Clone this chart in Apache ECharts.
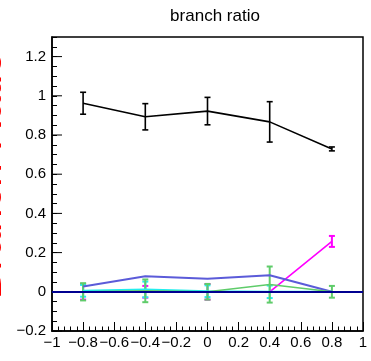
<!DOCTYPE html>
<html>
<head>
<meta charset="utf-8">
<script src="https://cdn.jsdelivr.net/npm/echarts@6/dist/echarts.min.js"></script>
<style>
  html, body { margin: 0; padding: 0; background: #fff; }
  #chart { width: 371px; height: 361px; }
</style>
</head>
<body>
<div id="chart"></div>
<script>
// Measurement points along x
const xPoints = [-0.8, -0.4, 0, 0.4, 0.8];

// Branch ratio per channel, with symmetric errors
const blackVals = [0.962, 0.893, 0.922, 0.867, 0.729];
const blackErrs = [0.056, 0.067, 0.070, 0.103, 0.010];

const magentaVals = [0, 0, 0, 0, 0.257];
const magentaErrs = [0.040, 0.030, 0.040, 0, 0.028];

const cyanVals = [0.005, 0.012, 0.003, 0, 0];
const cyanErrs = [0.030, 0.040, 0.030, 0.032, 0];

const blueVals = [0.027, 0.079, 0.067, 0.084, 0];

const greenVals = [0, 0.005, 0, 0.037, 0];
const greenErrs = [0.044, 0.058, 0.040, 0.092, 0.030];

// Axis ranges and tick steps
const xRange = [-1, 1];
const yRange = [-0.2, 1.3];
const xStep = 0.2;
const yStep = 0.2;
const yMinorStep = 0.05;
const yLabels = [-0.2, 0, 0.2, 0.4, 0.6, 0.8, 1, 1.2];

const FONT = '"Liberation Sans", Arial, Helvetica, sans-serif';

function fmt(v) {
  const s = (Math.round(v * 100) / 100).toString();
  return s.replace('-', '\u2212');
}
function isLabelled(v) {
  return yLabels.some(l => Math.abs(l - v) < 1e-6);
}

function pairs(vals) {
  return xPoints.map((x, i) => [x, vals[i]]);
}
function errTriples(vals, errs) {
  return xPoints.map((x, i) => [x, vals[i], errs[i]]).filter(d => d[2] > 0);
}

function errorBarSeries(vals, errs, color, width) {
  return {
    type: 'custom',
    z: 3,
    data: errTriples(vals, errs),
    renderItem: function (params, api) {
      const x = api.value(0), y = api.value(1), e = api.value(2);
      const hi = api.coord([x, y + e]);
      const lo = api.coord([x, y - e]);
      const cap = 3;
      const style = { stroke: color, lineWidth: width };
      return {
        type: 'group',
        children: [
          { type: 'line', shape: { x1: hi[0], y1: hi[1], x2: lo[0], y2: lo[1] }, style: style },
          { type: 'line', shape: { x1: hi[0] - cap, y1: hi[1], x2: hi[0] + cap, y2: hi[1] }, style: style },
          { type: 'line', shape: { x1: lo[0] - cap, y1: lo[1], x2: lo[0] + cap, y2: lo[1] }, style: style }
        ]
      };
    }
  };
}

function lineSeries(vals, color, width) {
  return {
    type: 'line',
    data: pairs(vals),
    symbol: 'none',
    z: 3,
    lineStyle: { color: color, width: width },
    animation: false
  };
}

const chart = echarts.init(document.getElementById('chart'), null, { renderer: 'canvas' });

chart.setOption({
  animation: false,
  backgroundColor: '#fff',
  title: {
    text: 'branch ratio',
    left: 210,
    top: 3,
    textAlign: 'center',
    textStyle: { fontFamily: FONT, fontSize: 17, fontWeight: 'normal', color: '#000' }
  },
  graphic: [{
    type: 'text',
    x: 11,
    y: 175,
    z: 10,
    rotation: Math.PI / 2,
    style: {
      text: 'Branch Ratio',
      font: '43px ' + FONT,
      fill: '#ff0000',
      textAlign: 'center',
      textVerticalAlign: 'bottom'
    }
  }],
  grid: {
    left: 52, right: 8, top: 37, bottom: 30,
    show: true, borderColor: '#000', borderWidth: 1.5, backgroundColor: 'transparent'
  },
  xAxis: {
    type: 'value',
    min: xRange[0], max: xRange[1], interval: xStep,
    axisLine: { show: true, onZero: false, lineStyle: { color: '#000', width: 1.5 } },
    axisTick: { show: true, inside: true, length: 9, lineStyle: { color: '#000', width: 1 } },
    minorTick: { show: true, splitNumber: 5, length: 4.5, lineStyle: { color: '#000', width: 1 } },
    splitLine: { show: false },
    axisLabel: { fontFamily: FONT, fontSize: 15, color: '#000', margin: 4, formatter: fmt }
  },
  yAxis: {
    type: 'value',
    min: yRange[0], max: yRange[1], interval: yMinorStep,
    axisLine: { show: true, onZero: false, lineStyle: { color: '#000', width: 1.5 } },
    axisTick: { show: true, inside: true, length: 5, lineStyle: { color: '#000', width: 1 } },
    splitLine: { show: false },
    axisLabel: {
      fontFamily: FONT, fontSize: 15, color: '#000', margin: 6,
      interval: 0,
      formatter: function (v) { return isLabelled(v) ? fmt(v) : ''; }
    }
  },
  series: [
    {
      // longer inward ticks at the labelled y values
      type: 'custom',
      silent: true,
      clip: false,
      z: 4,
      encode: { x: 0, y: 1 },
      data: yLabels.map(v => [xRange[0], v]),
      renderItem: function (params, api) {
        const p = api.coord([api.value(0), api.value(1)]);
        return {
          type: 'line',
          shape: { x1: p[0], y1: p[1], x2: p[0] + 10, y2: p[1] },
          style: { stroke: '#000', lineWidth: 1, fill: null }
        };
      }
    },
    {
      type: 'line',
      data: [],
      markLine: {
        silent: true,
        symbol: 'none',
        label: { show: false },
        lineStyle: { color: '#000090', width: 2, type: 'solid' },
        data: [{ yAxis: 0 }]
      },
      z: 2
    },
    lineSeries(blackVals, '#000', 1.6),
    errorBarSeries(blackVals, blackErrs, '#000', 1.6),
    lineSeries(magentaVals, '#ff00ff', 1.6),
    errorBarSeries(magentaVals, magentaErrs, '#ff00ff', 2),
    lineSeries(cyanVals, '#22eeee', 2),
    errorBarSeries(cyanVals, cyanErrs, '#22eeee', 2),
    lineSeries(blueVals, '#5b5bd9', 2),
    lineSeries(greenVals, '#5fcc6a', 1.6),
    errorBarSeries(greenVals, greenErrs, '#5fcc6a', 2)
  ]
});
</script>
</body>
</html>
